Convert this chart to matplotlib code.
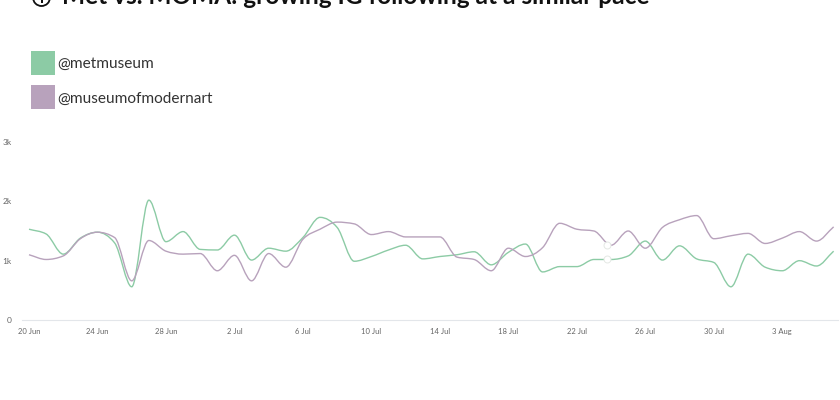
import matplotlib

matplotlib.use("Agg")
import matplotlib.pyplot as plt
import numpy as np
from matplotlib.patches import Circle, PathPatch, Rectangle
from matplotlib.path import Path

WIDTH, HEIGHT = 840, 400

# follower gains per day, in thousands, 20 Jun to 6 Aug
met = [1.53, 1.45, 1.11, 1.38, 1.48, 1.30, 0.56, 2.02, 1.32, 1.49, 1.19, 1.18, 1.43, 1.01, 1.21, 1.16,
       1.39, 1.73, 1.56, 0.99, 1.07, 1.18, 1.26, 1.03, 1.07, 1.10, 1.15, 0.93, 1.14, 1.28, 0.81, 0.90,
       0.90, 1.02, 1.02, 1.08, 1.33, 1.01, 1.25, 1.03, 0.97, 0.56, 1.11, 0.89, 0.83, 1.00, 0.91, 1.16]
moma = [1.10, 1.02, 1.08, 1.37, 1.48, 1.39, 0.66, 1.34, 1.16, 1.11, 1.12, 0.83, 1.09, 0.66, 1.12, 0.89,
        1.36, 1.53, 1.65, 1.62, 1.44, 1.49, 1.40, 1.40, 1.40, 1.06, 1.02, 0.83, 1.21, 1.07, 1.22, 1.63,
        1.53, 1.50, 1.26, 1.50, 1.21, 1.56, 1.69, 1.76, 1.37, 1.42, 1.46, 1.29, 1.38, 1.49, 1.33, 1.57]
tick_days = [0, 4, 8, 12, 16, 20, 24, 28, 32, 36, 40, 44]
tick_labels = ["20 Jun", "24 Jun", "28 Jun", "2 Jul", "6 Jul", "10 Jul", "14 Jul", "18 Jul", "22 Jul", "26 Jul",
               "30 Jul", "3 Aug"]
y_ticks = [0, 1, 2, 3]
y_labels = ["0", "1k", "2k", "3k"]
hover_day = 33.75
hover_values = [1.03, 1.27]

GREEN = "#8ccba5"
PURPLE = "#b8a2bc"
FONT = ["Lato", "DejaVu Sans"]


def monotone_path(y):
    # monotone spline: flat tangent at local peaks, rounder than a harmonic mean
    y = np.asarray(y, dtype=float)
    d = np.diff(y)
    m = np.zeros(len(y))
    for i in range(1, len(y) - 1):
        if d[i - 1] * d[i] > 0:
            m[i] = np.sign(d[i]) * 2 * min(abs(d[i - 1]), abs(d[i]), abs(d[i - 1] + d[i]) / 4)
    m[0], m[-1] = d[0], d[-1]
    verts = [(0, y[0])]
    codes = [Path.MOVETO]
    for i in range(len(y) - 1):
        verts += [(i + 1 / 3, y[i] + m[i] / 3), (i + 2 / 3, y[i + 1] - m[i + 1] / 3), (i + 1, y[i + 1])]
        codes += [Path.CURVE4] * 3
    return Path(verts, codes)


fig = plt.figure(figsize=(WIDTH / 100, HEIGHT / 100), dpi=100)
ax = fig.add_axes([22 / WIDTH, (HEIGHT - 320) / HEIGHT, (838 - 22) / WIDTH, (320 - 142) / HEIGHT])
ax.set_xlim((22 - 29) / 17.12, (838 - 29) / 17.12)
ax.set_ylim(0, 3)

ax.add_patch(PathPatch(monotone_path(met), fill=False, edgecolor=GREEN, lw=1.0, zorder=3))
ax.add_patch(PathPatch(monotone_path(moma), fill=False, edgecolor=PURPLE, lw=1.0, zorder=3))
ax.scatter([hover_day, hover_day], hover_values, s=25, facecolor="white", edgecolor="#e4e8e4", linewidth=0.7, zorder=4)

for side in ["top", "right", "left"]:
    ax.spines[side].set_visible(False)
ax.spines["bottom"].set_color("#e3e6ea")
ax.spines["bottom"].set_linewidth(0.8)
ax.set_xticks(tick_days, tick_labels, family=FONT, fontsize=5.5, color="#666666")
ax.tick_params(axis="x", length=0, pad=5.5)
ax.set_yticks(y_ticks, y_labels, family=FONT, fontsize=6, color="#666666")
ax.tick_params(axis="y", length=0, pad=7.5)

# title sits partly above the top edge of the picture, as in the original
fig.text(62 / WIDTH, 1 - 4 / HEIGHT, "Met vs. MOMA: growing IG following at a similar pace", family=FONT,
         fontsize=17.6, fontweight="bold", color="#111111", ha="left", va="baseline")
fig.add_artist(Circle((41.5, HEIGHT + 2.5), 8.5, transform=None, fill=False, edgecolor="#111111", lw=1.3))
fig.add_artist(Rectangle((40.5, HEIGHT - 2.5), 2, 3, transform=None, facecolor="#111111", edgecolor="none"))

for label, color, top, text_y in [("@metmuseum", GREEN, 51, 63.5), ("@museumofmodernart", PURPLE, 85, 99)]:
    fig.add_artist(Rectangle((31 / WIDTH, 1 - (top + 24) / HEIGHT), 24 / WIDTH, 24 / HEIGHT,
                             transform=fig.transFigure, facecolor=color, edgecolor="none"))
    fig.text(57 / WIDTH, 1 - text_y / HEIGHT, label, family=FONT, fontsize=11.1, color="#333333",
             ha="left", va="center")

fig.savefig("out.png", dpi=100)
